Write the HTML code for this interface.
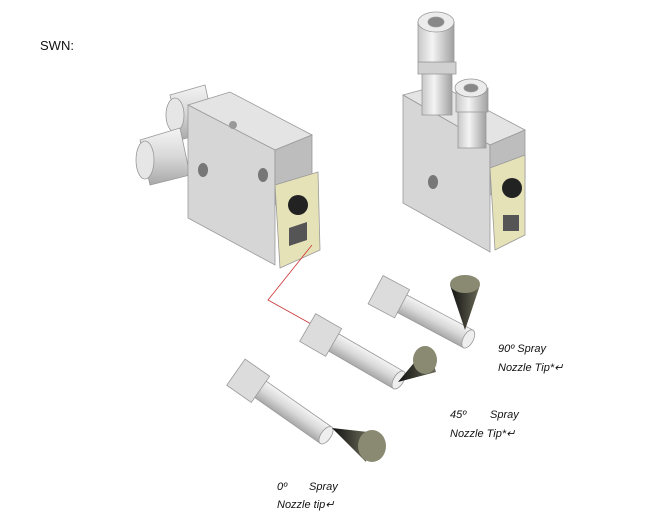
<!DOCTYPE html>
<html><head><style>
body{margin:0;background:#fff;width:650px;height:515px;overflow:hidden}
svg{display:block}
text{font-family:"Liberation Sans",sans-serif;font-style:italic;font-size:11px;fill:#111}
</style></head><body>
<svg width="650" height="515" viewBox="0 0 650 515">
<defs>
<linearGradient id="cyl" x1="0" y1="0" x2="0" y2="1">
<stop offset="0" stop-color="#f4f4f4"/><stop offset="0.5" stop-color="#d8d8d8"/><stop offset="1" stop-color="#a8a8a8"/></linearGradient>
<linearGradient id="vcyl" x1="0" y1="0" x2="1" y2="0">
<stop offset="0" stop-color="#c8c8c8"/><stop offset="0.4" stop-color="#f4f4f4"/><stop offset="1" stop-color="#a0a0a0"/></linearGradient>
<linearGradient id="cone" x1="0" y1="0" x2="1" y2="0">
<stop offset="0" stop-color="#111"/><stop offset="1" stop-color="#6a6a58"/></linearGradient>
</defs>
<text x="40" y="50" style="font-style:normal;font-size:13px">SWN:</text>

<!-- left block tubes -->
<g stroke="#999" stroke-width="0.8">
<polygon points="170,95 205,85 215,130 180,140" fill="url(#cyl)"/>
<ellipse cx="175" cy="115" rx="9" ry="17" fill="#e6e6e6"/>
<polygon points="140,140 180,128 190,175 150,185" fill="url(#cyl)"/>
<ellipse cx="145" cy="160" rx="9" ry="19" fill="#e6e6e6"/>
<polygon points="188,105 230,92 312,135 275,150" fill="#e4e4e4"/>
<polygon points="188,105 275,150 275,265 188,218" fill="#d6d6d6"/>
<polygon points="275,150 312,135 312,190 275,205" fill="#bdbdbd"/>
<polygon points="275,185 318,172 320,250 280,268" fill="#e6e2b8"/>
</g>
<circle cx="233" cy="125" r="4" fill="#999"/>
<ellipse cx="203" cy="170" rx="5" ry="7" fill="#777"/>
<ellipse cx="263" cy="175" rx="5" ry="7" fill="#777"/>
<circle cx="298" cy="205" r="10" fill="#222"/>
<polygon points="289,228 307,222 307,240 289,246" fill="#555"/>

<!-- right block -->
<g stroke="#999" stroke-width="0.8">
<polygon points="403,95 440,85 525,130 490,145" fill="#e4e4e4"/>
<polygon points="403,95 490,145 490,252 403,203" fill="#d6d6d6"/>
<polygon points="490,145 525,130 525,180 490,195" fill="#bdbdbd"/>
<polygon points="490,168 525,155 525,235 495,250" fill="#e6e2b8"/>
<!-- fittings on top -->
<rect x="422" y="60" width="30" height="55" fill="url(#vcyl)"/>
<rect x="418" y="62" width="38" height="12" fill="#d0d0d0"/>
<rect x="418" y="22" width="36" height="40" fill="url(#vcyl)"/>
<ellipse cx="436" cy="22" rx="18" ry="10" fill="#ececec"/>
<ellipse cx="436" cy="22" rx="8" ry="5" fill="#888"/>
<rect x="458" y="110" width="28" height="38" fill="url(#vcyl)"/>
<rect x="456" y="88" width="32" height="24" fill="url(#vcyl)"/>
<ellipse cx="471" cy="88" rx="16" ry="9" fill="#ececec"/>
<ellipse cx="471" cy="88" rx="7" ry="4" fill="#888"/>
</g>
<ellipse cx="433" cy="182" rx="5" ry="7" fill="#777"/>
<circle cx="512" cy="188" r="10" fill="#222"/>
<rect x="503" y="215" width="16" height="16" fill="#555"/>

<polyline points="312,245 268,300 322,330" fill="none" stroke="#c33" stroke-width="0.8"/>

<g stroke="#999" stroke-width="0.8">
<g transform="translate(380,292) rotate(28)">
<rect x="0" y="-10" width="100" height="20" fill="url(#cyl)"/>
<rect x="-5" y="-16" width="30" height="32" fill="#dcdcdc"/>
<ellipse cx="100" cy="0" rx="5" ry="10" fill="#eee"/>
</g>
<g transform="translate(312,330) rotate(30)">
<rect x="0" y="-10" width="100" height="20" fill="url(#cyl)"/>
<rect x="-5" y="-16" width="30" height="32" fill="#dcdcdc"/>
<ellipse cx="100" cy="0" rx="5" ry="10" fill="#eee"/>
</g>
<g transform="translate(240,375) rotate(35)">
<rect x="0" y="-10" width="105" height="20" fill="url(#cyl)"/>
<rect x="-5" y="-16" width="30" height="32" fill="#dcdcdc"/>
<ellipse cx="105" cy="0" rx="5" ry="10" fill="#eee"/>
</g>
</g>
<polygon points="465,330 450,285 480,285" fill="url(#cone)"/>
<ellipse cx="465" cy="284" rx="15" ry="9" fill="#8a8a72"/>
<polygon points="398,382 428,346 436,372" fill="url(#cone)"/>
<ellipse cx="425" cy="360" rx="12" ry="14" fill="#8a8a72"/>
<polygon points="332,428 368,432 366,462" fill="url(#cone)"/>
<ellipse cx="372" cy="446" rx="14" ry="16" fill="#8a8a72"/>

<text x="498" y="352">90º Spray</text>
<text x="498" y="371">Nozzle Tip*↵</text>
<text x="450" y="418">45º</text><text x="490" y="418">Spray</text>
<text x="450" y="437">Nozzle Tip*↵</text>
<text x="277" y="490">0º</text><text x="309" y="490">Spray</text>
<text x="277" y="508">Nozzle tip↵</text>
</svg>
</body></html>
